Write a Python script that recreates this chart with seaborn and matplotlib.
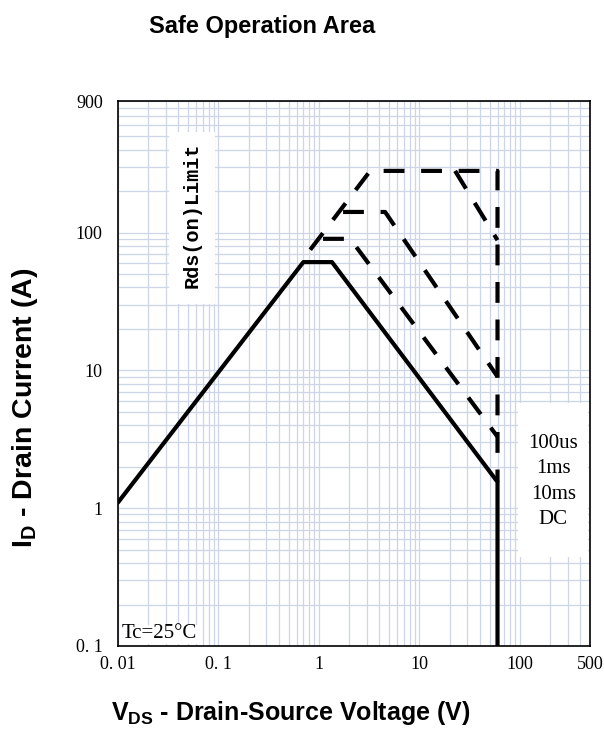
import seaborn as sns
import matplotlib.pyplot as plt
from matplotlib.patches import Rectangle
from matplotlib.ticker import LogLocator, NullFormatter

# DC curve (solid)
v_dc = [0.01, 0.70, 1.35, 60, 60]
i_dc = [1.1, 61, 61, 1.55, 0.01]

# pulse curves (dashed)
v_top = [0.82, 3.24, 60, 60]
i_top = [75, 280, 280, 1.55]
v_branch = [22.7, 60]
i_branch = [280, 88]
v_mid = [1.74, 4.56, 60]
i_mid = [141, 141, 9.0]
v_low = [1.10, 2.05, 60]
i_low = [90, 90, 3.3]

x_ticks = [0.01, 0.1, 1, 10, 100, 500]
x_labels = ["0. 01", "0. 1", "1", "10", "100", "500"]
y_ticks = [0.1, 1, 10, 100, 900]
y_labels = ["0. 1", "1", "10", "100", "900"]
pulse_labels = ["100us", "1ms", "10ms", "DC"]

sns.set_style("white")
plt.rcParams["font.family"] = ["Liberation Sans", "DejaVu Sans"]
plt.rcParams["mathtext.fontset"] = "custom"
plt.rcParams["mathtext.rm"] = "Liberation Sans"
plt.rcParams["mathtext.bf"] = "Liberation Sans:bold"
plt.rcParams["text.color"] = "black"
plt.rcParams["xtick.color"] = "black"
plt.rcParams["ytick.color"] = "black"

fig = plt.figure(figsize=(6.04, 7.42), dpi=100)
ax = fig.add_axes([118 / 604, 96 / 742, 472 / 604, 545 / 742])
ax.set_xscale("log")
ax.set_yscale("log")

dash = (0, (5, 4))
sns.lineplot(x=v_dc, y=i_dc, ax=ax, sort=False, estimator=None, color="black", lw=3)
for v, i in [(v_top, i_top), (v_branch, i_branch), (v_mid, i_mid), (v_low, i_low)]:
    sns.lineplot(x=v, y=i, ax=ax, sort=False, estimator=None, color="black", lw=3, linestyle=dash)

ax.set_xlim(0.01, 500)
ax.set_ylim(0.1, 900)
ax.set_xticks(x_ticks)
ax.set_xticklabels(x_labels, family="Liberation Serif", fontsize=13)
ax.set_yticks(y_ticks)
ax.set_yticklabels(y_labels, family="Liberation Serif", fontsize=13)
ax.xaxis.set_minor_locator(LogLocator(base=10, subs=range(2, 10)))
ax.yaxis.set_minor_locator(LogLocator(base=10, subs=range(2, 10)))
ax.xaxis.set_minor_formatter(NullFormatter())
ax.yaxis.set_minor_formatter(NullFormatter())
ax.tick_params(which="both", length=0)
ax.tick_params(axis="x", pad=7)
ax.tick_params(axis="y", pad=11)
ax.grid(True, which="both", color="#cdd5e6", lw=0.9)
ax.set_axisbelow(True)
for s in ax.spines.values():
    s.set_color("black")
    s.set_linewidth(1.2)
ax.set_xlabel("")
ax.set_ylabel("")

# annotation boxes
ax.add_patch(Rectangle((0.107, 0.628), 0.098, 0.315, transform=ax.transAxes,
                       facecolor="white", edgecolor="none", zorder=1.5))
ax.text(0.156, 0.79, "Rds(on)Limit", transform=ax.transAxes, rotation=90,
        ha="center", va="center", family="Liberation Mono", fontsize=14.5,
        fontweight="bold", zorder=3)

ax.add_patch(Rectangle((0.847, 0.163), 0.149, 0.283, transform=ax.transAxes,
                       facecolor="white", edgecolor="none", zorder=1.5))
ax.text(0.922, 0.302, "\n".join(pulse_labels), transform=ax.transAxes,
        ha="center", va="center", family="Liberation Serif", fontsize=15,
        linespacing=1.45, zorder=3)

ax.add_patch(Rectangle((0.004, 0.003), 0.17, 0.036, transform=ax.transAxes,
                       facecolor="white", edgecolor="none", zorder=1.5))
ax.text(0.008, 0.006, "Tc=25°C", transform=ax.transAxes, ha="left", va="bottom",
        family="Liberation Serif", fontsize=15, zorder=3)

fig.text(262 / 604, 1 - 27 / 742, "Safe Operation Area", ha="center", va="center",
         fontsize=17, fontweight="bold")
fig.text(291 / 604, 1 - 713 / 742, r"$\mathbf{V_{DS}}$ - Drain-Source Voltage (V)",
         ha="center", va="center", fontsize=18, fontweight="bold")
fig.text(25 / 604, 1 - 408 / 742, r"$\mathbf{I_D}$ - Drain Current (A)",
         ha="center", va="center", rotation=90, fontsize=20.5, fontweight="bold")

fig.savefig("out.png", dpi=100)
